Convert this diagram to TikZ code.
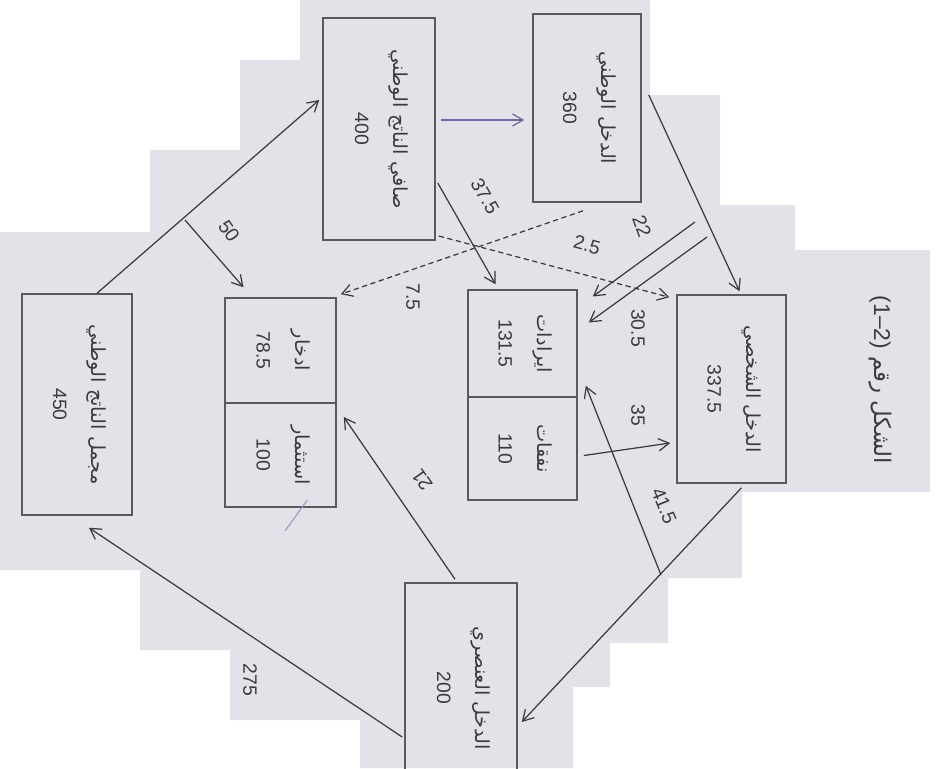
\documentclass[tikz,border=0pt]{standalone}
\usepackage{fontspec}
\usepackage{graphicx}
\setmainfont{Liberation Sans}
\newfontfamily\arfont[Script=Arabic]{DejaVu Sans}
\TeXXeTstate=1
\usetikzlibrary{arrows.meta,calc}
\definecolor{ink}{HTML}{3A3A3A}
\definecolor{paper}{HTML}{E4E2E8}
\definecolor{edge}{HTML}{5A5A5A}
\definecolor{blueink}{HTML}{6A6AA0}
\newcommand{\bxt}[2]{\rotatebox{-90}{\begin{tabular}{@{}c@{}}{\arfont\beginR #1\endR}\\[9pt]#2\end{tabular}}}
\begin{document}
\begin{tikzpicture}[x=0.02cm,y=-0.02cm,
  box/.style={draw=edge,line width=0.9pt,inner sep=0pt,text=ink,font=\fontsize{11}{13}\selectfont},
  flow/.style={draw=ink,line width=0.7pt,-{Straight Barb[length=6pt,width=7pt]}},
  val/.style={text=ink,font=\fontsize{11}{13}\selectfont,inner sep=1pt}]
\useasboundingbox (0,0) rectangle (942,768);
\clip (0,0) rectangle (942,768);
\fill[white] (0,0) rectangle (942,768);
\fill[paper] (300,0) -- (650,0) -- (650,95) -- (720,95) -- (720,205) -- (795,205) -- (795,250)
  -- (930,250) -- (930,492) -- (742,492) -- (742,578) -- (668,578) -- (668,643) -- (610,643)
  -- (610,687) -- (573,687) -- (573,768) -- (360,768) -- (360,720) -- (230,720) -- (230,650)
  -- (140,650) -- (140,570) -- (0,570) -- (0,232) -- (150,232) -- (150,150) -- (240,150)
  -- (240,60) -- (300,60) -- cycle;

% boxes
\node[box,minimum width=2.24cm,minimum height=4.44cm] (np) at (379,129) {\bxt{صافي الناتج الوطني}{400}};
\node[box,minimum width=2.16cm,minimum height=3.76cm] (ni) at (587,108) {\bxt{الدخل الوطني}{360}};
\node[box,minimum width=2.2cm,minimum height=4.42cm] (gnp) at (77,404.5) {\bxt{مجمل الناتج الوطني}{450}};
\node[box,minimum width=2.22cm,minimum height=2.10cm] (sav) at (280.5,350.5) {\bxt{ادخار}{78.5}};
\node[box,minimum width=2.22cm,minimum height=2.08cm] (inv) at (280.5,455) {\bxt{استثمار}{100}};
\node[box,minimum width=2.18cm,minimum height=2.14cm] (rev) at (522.5,343.5) {\bxt{ايرادات}{131.5}};
\node[box,minimum width=2.18cm,minimum height=2.06cm] (exp) at (522.5,448.5) {\bxt{نفقات}{110}};
\node[box,minimum width=2.18cm,minimum height=3.76cm] (pi) at (731.5,389) {\bxt{الدخل الشخصي}{337.5}};
\node[box,minimum width=2.24cm,minimum height=4.2cm] (fi) at (461,688) {\bxt{الدخل العنصري}{200}};

\node[text=ink,font=\fontsize{13}{15}\selectfont,rotate=-90] (title) at (880,380)
  {\arfont\beginR الشكل رقم \beginL{\normalfont (1–2)}\endL\endR};

% free ends
\coordinate (c22) at (695,222);
\coordinate (c30) at (707,237);
\coordinate (c50) at (185,220);
\coordinate (c41) at (661,575);
\coordinate (stray) at (285,531);

% connectors
\draw[flow] ($(gnp.north)+(20,0)$) -- ($(np.west)+(-3,-29)$);
\draw[flow,draw=blueink] ($(np.east)+(5,-9)$) -- ($(ni.west)+(-8,12)$);
\draw[flow] ($(ni.east)+(7,-13)$) -- ($(pi.north)+(8,-3)$);
\draw[flow] (c22) -- ($(rev.east)+(15,-47)$);
\draw[flow] (c30) -- ($(rev.east)+(11,-21)$);
\draw[flow] (c50) -- ($(sav.north)+(-37,-10)$);
\draw[flow,densely dashed] ($(ni.south)+(-4,8)$) -- ($(sav.north east)+(4,-3)$);
\draw[flow] ($(np.east)+(2,54)$) -- ($(rev.north)+(-27,-5)$);
\draw[flow,densely dashed] ($(np.east)+(3,107)$) -- ($(pi.north west)+(-7,3)$);
\draw[flow] ($(exp.east)+(6,7)$) -- ($(pi.west)+(-6,54)$);
\draw[flow] (c41) -- ($(rev.south east)+(8,-12)$);
\draw[flow] ($(pi.south)+(10,4)$) -- ($(fi.east)+(4,34)$);
\draw[flow] ($(fi.north)+(-6,-3)$) -- ($(inv.east)+(7,-38)$);
\draw[flow] ($(fi.west)+(-2,49)$) -- ($(gnp.south)+(12,12)$);
\draw[draw=blueink!70,line width=0.6pt] ($(inv.south)+(27,-8)$) -- (stray);

% labels
\node[val,rotate=-55] (l50) at (229,231) {50};
\node[val,rotate=-60] (l375) at (485,196) {37.5};
\node[val,rotate=-90] (l75) at (413,297) {7.5};
\node[val,rotate=-15] (l25) at (587,245) {2.5};
\node[val,rotate=-70] (l22) at (642,226) {22};
\node[val,rotate=-90] (l305) at (638,328) {30.5};
\node[val,rotate=-90] (l35) at (638,415) {35};
\node[val,rotate=-68] (l415) at (664,506) {41.5};
\node[val,rotate=125] (l21) at (422,480) {21};
\node[val,rotate=-90] (l275) at (250,680) {275};
\end{tikzpicture}
\end{document}
